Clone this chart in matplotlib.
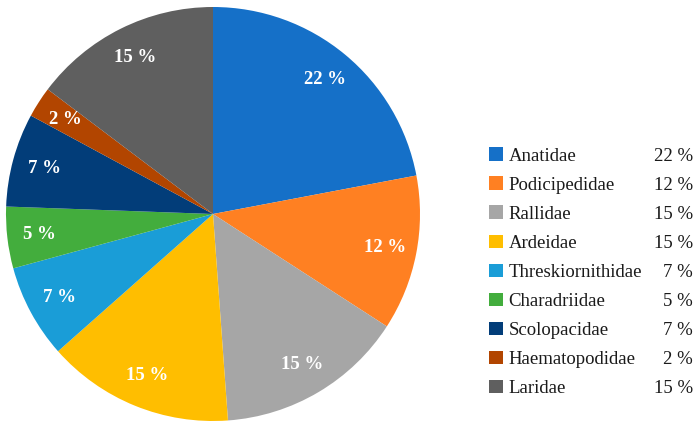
import numpy as np
import matplotlib.pyplot as plt
from matplotlib.patches import Patch

# Familias y porcentajes
families = ['Anatidae', 'Podicipedidae', 'Rallidae', 'Ardeidae', 'Threskiornithidae',
            'Charadriidae', 'Scolopacidae', 'Haematopodidae', 'Laridae']
shares = [22.0, 12.1, 14.7, 14.6, 7.3, 4.8, 7.3, 2.4, 14.7]
colors = ['#1570C8', '#FF8022', '#A6A6A6', '#FFBE00', '#1A9DD7',
          '#43AD3D', '#023D79', '#B24500', '#5F5F5F']

plt.rcParams['font.family'] = ['Liberation Serif', 'DejaVu Serif']

fig = plt.figure(figsize=(6.97, 4.24), dpi=100)
ax = fig.add_axes([6 / 697, 3 / 424, 414 / 697, 414 / 424])

total = sum(shares)
labels_pct = ['%d %%' % round(v * 100 / total) for v in shares]

wedges, _ = ax.pie(shares, colors=colors, startangle=90, counterclock=False,
                   radius=1, wedgeprops={'linewidth': 0})
for w, txt in zip(wedges, labels_pct):
    ang = np.deg2rad((w.theta1 + w.theta2) / 2)
    ax.text(0.845 * np.cos(ang), 0.845 * np.sin(ang), txt, color='white',
            fontsize=13.5, fontweight='bold', ha='center', va='center')
ax.set_xlim(-1, 1)
ax.set_ylim(-1, 1)
ax.set_aspect('equal')

# Leyenda con los porcentajes alineados a la derecha
handles = [Patch(facecolor=c, edgecolor='none') for c in colors]
leg = fig.legend(handles, families, loc='upper left', bbox_to_anchor=(480 / 697, 1 - 138 / 424),
                 frameon=False, fontsize=13.5, handlelength=0.72, handleheight=0.72,
                 handletextpad=0.3, labelspacing=0.63, borderpad=0)
for t in leg.get_texts():
    t.set_color('#1a1a1a')

fig.canvas.draw()
inv = fig.transFigure.inverted()
for t, txt in zip(leg.get_texts(), labels_pct):
    bb = t.get_window_extent()
    y = inv.transform((0, (bb.y0 + bb.y1) / 2))[1]
    fig.text(693 / 697, y, txt, ha='right', va='center', fontsize=13.5, color='#1a1a1a')

fig.savefig('out.png', dpi=100)
